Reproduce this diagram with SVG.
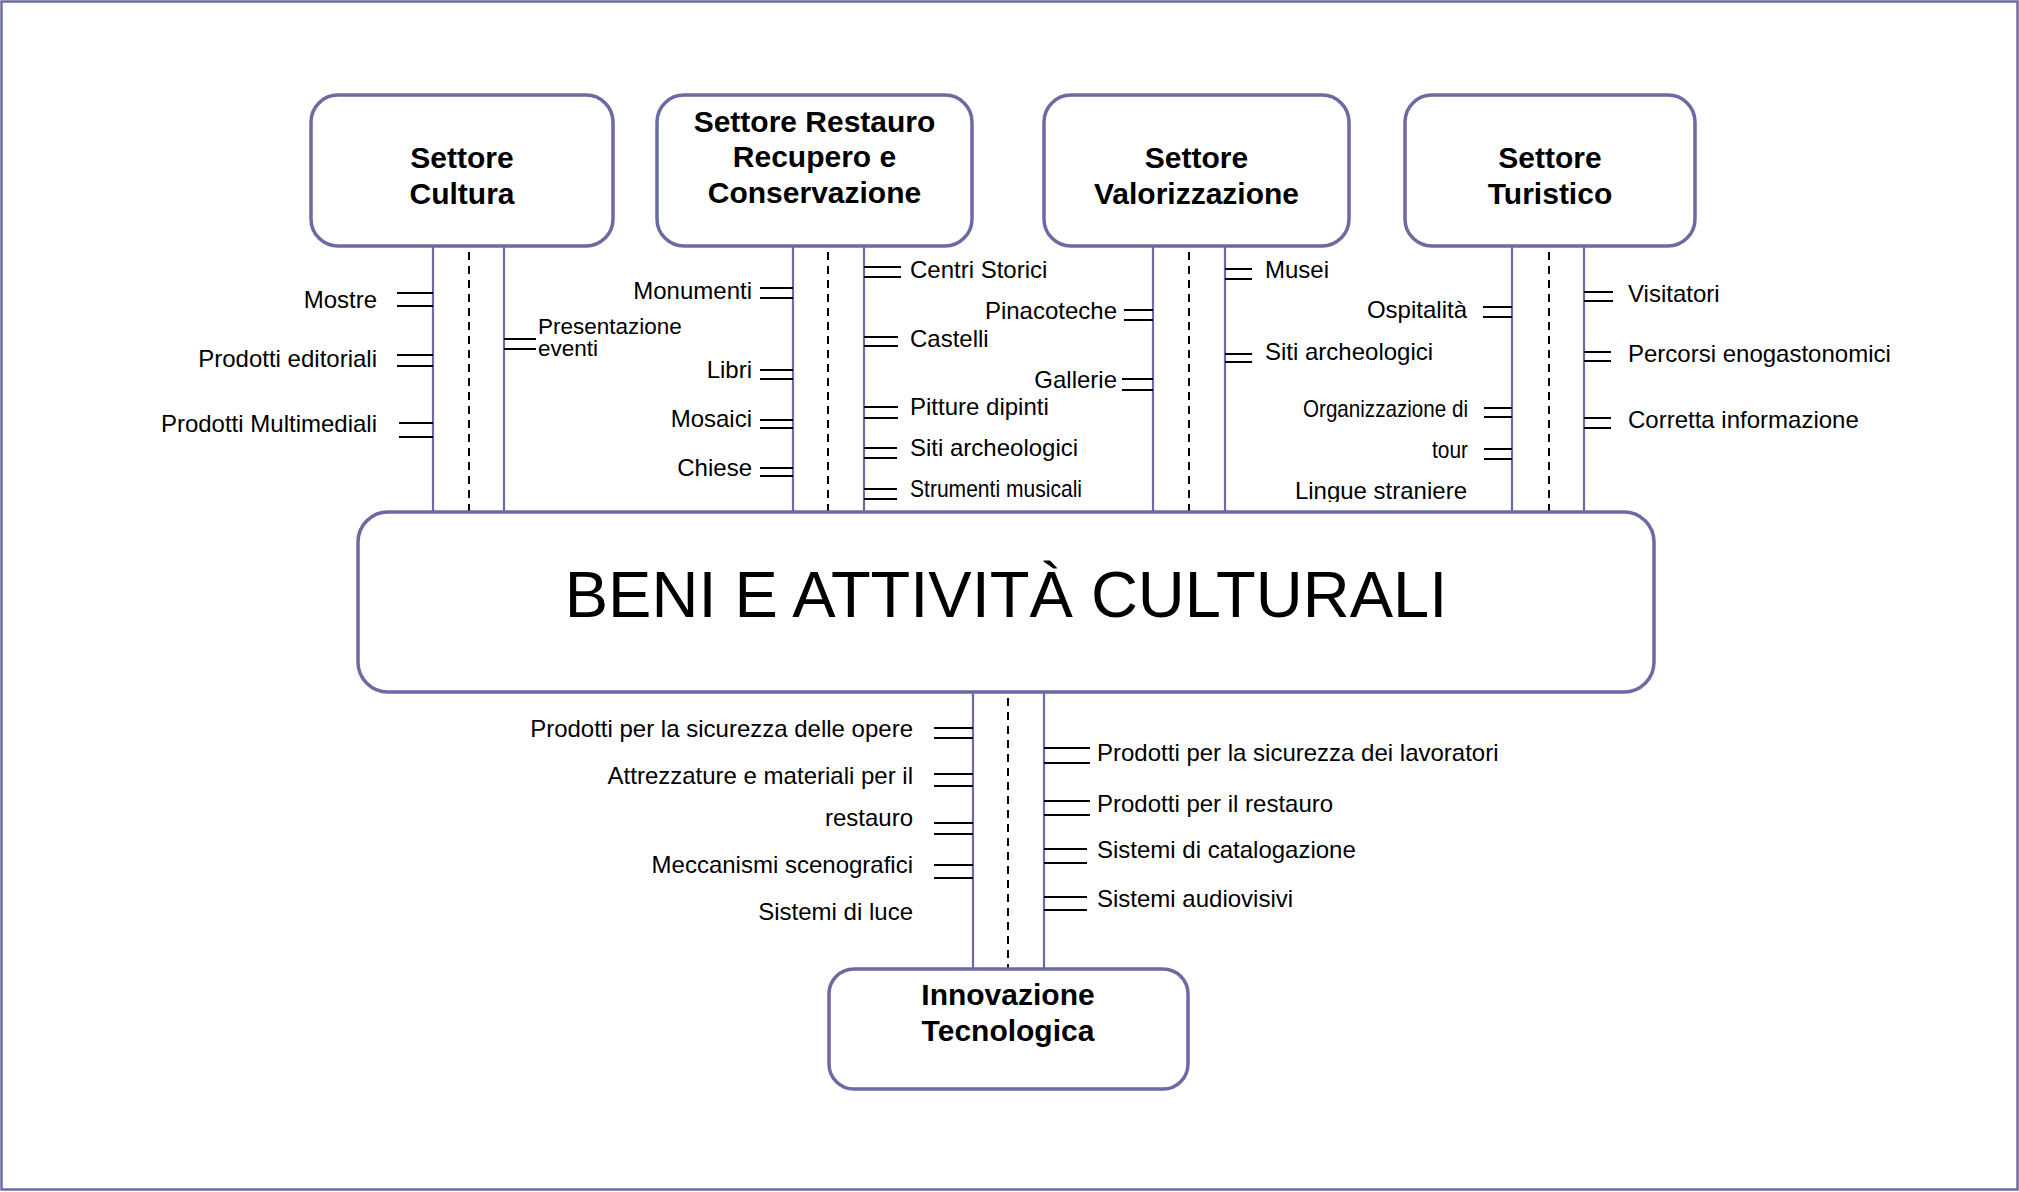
<svg xmlns="http://www.w3.org/2000/svg" width="2019" height="1192" viewBox="0 0 2019 1192">
<defs>
<style>
.frame{fill:#fff;stroke:#6b6ba3;stroke-width:2.5}
.box{fill:#fff;stroke:#6b6ba3;stroke-width:3.5}
.stem{fill:none;stroke:#6b6ba3;stroke-width:2.2}
.dash{fill:none;stroke:#000;stroke-width:2;stroke-dasharray:8 6}
.tick{fill:none;stroke:#000;stroke-width:2}
.lbl{font-family:"Liberation Sans",Arial,sans-serif;font-size:24px;fill:#000}
.sm{font-size:22.5px}
.r{text-anchor:end}
.title{font-family:"Liberation Sans",Arial,sans-serif;font-size:30px;font-weight:bold;fill:#000;text-anchor:middle}
.main{font-family:"Liberation Sans",Arial,sans-serif;font-size:65px;fill:#000;text-anchor:middle}
</style>
<clipPath id="clipLingue"><rect x="1200" y="470" width="300" height="32"/></clipPath>
</defs>
<rect class="frame" x="1.5" y="1.5" width="2016" height="1188"/>

<g id="connectors">
  <!-- Settore Cultura stem -->
  <line class="stem" x1="433" y1="246" x2="433" y2="512"/>
  <line class="stem" x1="504" y1="246" x2="504" y2="512"/>
  <line class="dash" x1="469" y1="252" x2="469" y2="512"/>
  <line class="tick" x1="397" y1="293" x2="433" y2="293"/><line class="tick" x1="397" y1="306" x2="433" y2="306"/>
  <line class="tick" x1="397" y1="355" x2="433" y2="355"/><line class="tick" x1="397" y1="366" x2="433" y2="366"/>
  <line class="tick" x1="399" y1="423" x2="433" y2="423"/><line class="tick" x1="399" y1="437" x2="433" y2="437"/>
  <line class="tick" x1="504" y1="339" x2="536" y2="339"/><line class="tick" x1="504" y1="349" x2="536" y2="349"/>

  <!-- Settore Restauro stem -->
  <line class="stem" x1="793" y1="246" x2="793" y2="512"/>
  <line class="stem" x1="864" y1="246" x2="864" y2="512"/>
  <line class="dash" x1="828" y1="252" x2="828" y2="512"/>
  <line class="tick" x1="760" y1="288" x2="793" y2="288"/><line class="tick" x1="760" y1="298" x2="793" y2="298"/>
  <line class="tick" x1="760" y1="370" x2="793" y2="370"/><line class="tick" x1="760" y1="379" x2="793" y2="379"/>
  <line class="tick" x1="760" y1="420" x2="793" y2="420"/><line class="tick" x1="760" y1="428" x2="793" y2="428"/>
  <line class="tick" x1="760" y1="468" x2="793" y2="468"/><line class="tick" x1="760" y1="476" x2="793" y2="476"/>
  <line class="tick" x1="864" y1="267" x2="901" y2="267"/><line class="tick" x1="864" y1="277" x2="901" y2="277"/>
  <line class="tick" x1="864" y1="337" x2="898" y2="337"/><line class="tick" x1="864" y1="346" x2="898" y2="346"/>
  <line class="tick" x1="864" y1="407" x2="898" y2="407"/><line class="tick" x1="864" y1="418" x2="898" y2="418"/>
  <line class="tick" x1="864" y1="448" x2="897" y2="448"/><line class="tick" x1="864" y1="458" x2="897" y2="458"/>
  <line class="tick" x1="864" y1="489" x2="897" y2="489"/><line class="tick" x1="864" y1="499" x2="897" y2="499"/>

  <!-- Settore Valorizzazione stem -->
  <line class="stem" x1="1153" y1="246" x2="1153" y2="512"/>
  <line class="stem" x1="1225" y1="246" x2="1225" y2="512"/>
  <line class="dash" x1="1189" y1="252" x2="1189" y2="512"/>
  <line class="tick" x1="1124" y1="310" x2="1153" y2="310"/><line class="tick" x1="1124" y1="320" x2="1153" y2="320"/>
  <line class="tick" x1="1122" y1="379" x2="1153" y2="379"/><line class="tick" x1="1122" y1="390" x2="1153" y2="390"/>
  <line class="tick" x1="1225" y1="269" x2="1252" y2="269"/><line class="tick" x1="1225" y1="279" x2="1252" y2="279"/>
  <line class="tick" x1="1225" y1="354" x2="1252" y2="354"/><line class="tick" x1="1225" y1="362" x2="1252" y2="362"/>

  <!-- Settore Turistico stem -->
  <line class="stem" x1="1512" y1="246" x2="1512" y2="512"/>
  <line class="stem" x1="1584" y1="246" x2="1584" y2="512"/>
  <line class="dash" x1="1549" y1="252" x2="1549" y2="512"/>
  <line class="tick" x1="1483" y1="307" x2="1512" y2="307"/><line class="tick" x1="1483" y1="317" x2="1512" y2="317"/>
  <line class="tick" x1="1484" y1="408" x2="1512" y2="408"/><line class="tick" x1="1484" y1="417" x2="1512" y2="417"/>
  <line class="tick" x1="1484" y1="449" x2="1512" y2="449"/><line class="tick" x1="1484" y1="459" x2="1512" y2="459"/>
  <line class="tick" x1="1584" y1="292" x2="1613" y2="292"/><line class="tick" x1="1584" y1="301" x2="1613" y2="301"/>
  <line class="tick" x1="1584" y1="352" x2="1611" y2="352"/><line class="tick" x1="1584" y1="361" x2="1611" y2="361"/>
  <line class="tick" x1="1584" y1="418" x2="1611" y2="418"/><line class="tick" x1="1584" y1="428" x2="1611" y2="428"/>

  <!-- Innovazione Tecnologica stem -->
  <line class="stem" x1="973" y1="692" x2="973" y2="969"/>
  <line class="stem" x1="1044" y1="692" x2="1044" y2="969"/>
  <line class="dash" x1="1008" y1="698" x2="1008" y2="969"/>
  <line class="tick" x1="934" y1="728" x2="973" y2="728"/><line class="tick" x1="934" y1="738" x2="973" y2="738"/>
  <line class="tick" x1="934" y1="774" x2="973" y2="774"/><line class="tick" x1="934" y1="786" x2="973" y2="786"/>
  <line class="tick" x1="934" y1="823" x2="973" y2="823"/><line class="tick" x1="934" y1="834" x2="973" y2="834"/>
  <line class="tick" x1="934" y1="865" x2="973" y2="865"/><line class="tick" x1="934" y1="878" x2="973" y2="878"/>
  <line class="tick" x1="1044" y1="748" x2="1090" y2="748"/><line class="tick" x1="1044" y1="763" x2="1090" y2="763"/>
  <line class="tick" x1="1044" y1="801" x2="1090" y2="801"/><line class="tick" x1="1044" y1="815" x2="1090" y2="815"/>
  <line class="tick" x1="1044" y1="849" x2="1087" y2="849"/><line class="tick" x1="1044" y1="863" x2="1087" y2="863"/>
  <line class="tick" x1="1044" y1="897" x2="1087" y2="897"/><line class="tick" x1="1044" y1="910" x2="1087" y2="910"/>
</g>

<g id="labels">
  <text class="lbl r" x="377" y="308">Mostre</text>
  <text class="lbl r" x="377" y="367">Prodotti editoriali</text>
  <text class="lbl r" x="377" y="432">Prodotti Multimediali</text>
  <text class="lbl sm" x="538" y="334">Presentazione</text>
  <text class="lbl sm" x="538" y="356">eventi</text>

  <text class="lbl r" x="752" y="299">Monumenti</text>
  <text class="lbl r" x="752" y="378">Libri</text>
  <text class="lbl r" x="752" y="427">Mosaici</text>
  <text class="lbl r" x="752" y="476">Chiese</text>
  <text class="lbl" x="910" y="278">Centri Storici</text>
  <text class="lbl" x="910" y="347">Castelli</text>
  <text class="lbl" x="910" y="415">Pitture dipinti</text>
  <text class="lbl" x="910" y="456">Siti archeologici</text>
  <text class="lbl" x="910" y="497" textLength="172" lengthAdjust="spacingAndGlyphs">Strumenti musicali</text>

  <text class="lbl r" x="1117" y="319">Pinacoteche</text>
  <text class="lbl r" x="1117" y="388">Gallerie</text>
  <text class="lbl" x="1265" y="278">Musei</text>
  <text class="lbl" x="1265" y="360">Siti archeologici</text>

  <text class="lbl r" x="1467" y="318">Ospitalità</text>
  <text class="lbl" x="1303" y="417" textLength="165" lengthAdjust="spacingAndGlyphs">Organizzazione di</text>
  <text class="lbl" x="1432" y="458" textLength="36" lengthAdjust="spacingAndGlyphs">tour</text>
  <text class="lbl r" x="1467" y="499" clip-path="url(#clipLingue)">Lingue straniere</text>
  <text class="lbl" x="1628" y="302">Visitatori</text>
  <text class="lbl" x="1628" y="362">Percorsi enogastonomici</text>
  <text class="lbl" x="1628" y="428">Corretta informazione</text>

  <text class="lbl r" x="913" y="737">Prodotti per la sicurezza delle opere</text>
  <text class="lbl r" x="913" y="784">Attrezzature e materiali per il</text>
  <text class="lbl r" x="913" y="826">restauro</text>
  <text class="lbl r" x="913" y="873">Meccanismi scenografici</text>
  <text class="lbl r" x="913" y="920">Sistemi di luce</text>
  <text class="lbl" x="1097" y="761">Prodotti per la sicurezza dei lavoratori</text>
  <text class="lbl" x="1097" y="812">Prodotti per il restauro</text>
  <text class="lbl" x="1097" y="858">Sistemi di catalogazione</text>
  <text class="lbl" x="1097" y="907">Sistemi audiovisivi</text>
</g>

<g id="settore-cultura">
  <rect class="box" x="311" y="95" width="302" height="151" rx="27"/>
  <text class="title" x="462" y="168">Settore</text>
  <text class="title" x="462" y="204">Cultura</text>
</g>
<g id="settore-restauro">
  <rect class="box" x="657" y="95" width="315" height="151" rx="27"/>
  <text class="title" x="814.5" y="132">Settore Restauro</text>
  <text class="title" x="814.5" y="167">Recupero e</text>
  <text class="title" x="814.5" y="203">Conservazione</text>
</g>
<g id="settore-valorizzazione">
  <rect class="box" x="1044" y="95" width="305" height="151" rx="27"/>
  <text class="title" x="1196.5" y="168">Settore</text>
  <text class="title" x="1196.5" y="204">Valorizzazione</text>
</g>
<g id="settore-turistico">
  <rect class="box" x="1405" y="95" width="290" height="151" rx="27"/>
  <text class="title" x="1550" y="168">Settore</text>
  <text class="title" x="1550" y="204">Turistico</text>
</g>
<g id="beni-attivita">
  <rect class="box" x="358" y="512" width="1296" height="180" rx="30"/>
  <text class="main" x="1006" y="617">BENI E ATTIVITÀ CULTURALI</text>
</g>
<g id="innovazione">
  <rect class="box" x="829" y="969" width="359" height="120" rx="25"/>
  <text class="title" x="1008" y="1005">Innovazione</text>
  <text class="title" x="1008" y="1041">Tecnologica</text>
</g>
</svg>
